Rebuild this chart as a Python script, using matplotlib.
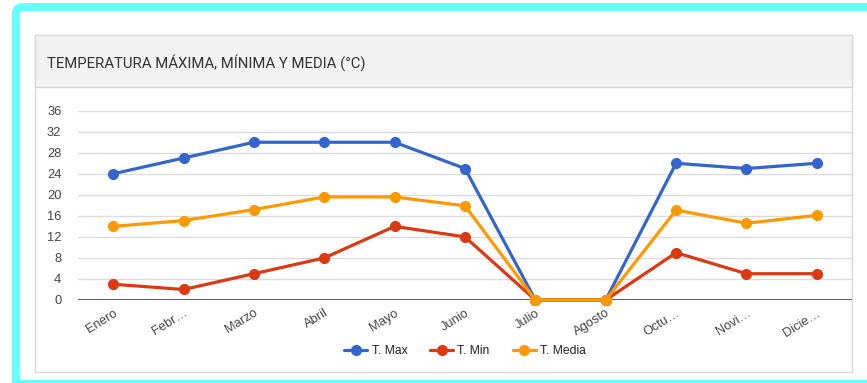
import matplotlib.pyplot as plt
from matplotlib.patches import Rectangle, FancyBboxPatch
import numpy as np

meses = ["Enero", "Febr…", "Marzo", "Abril", "Mayo", "Junio", "Julio",
         "Agosto", "Octu…", "Novi…", "Dicie…"]
t_max = [24, 27, 30, 30, 30, 25, 0, 0, 26, 25, 26]
t_min = [3, 2, 5, 8, 14, 12, 0, 0, 9, 5, 5]
t_media = [14, 15.1, 17.2, 19.6, 19.6, 17.9, 0, 0, 17.1, 14.6, 16.1]

series = [("T. Max", t_max, "#3366CC"),
          ("T. Min", t_min, "#DC3912"),
          ("T. Media", t_media, "#FF9900")]

W, H = 867, 383


def px_box(x0, y0, x1, y1):
    # pixel box (top-left origin) -> figure fraction rect
    return [x0 / W, (H - y1) / H, (x1 - x0) / W, (y1 - y0) / H]


def main():
    fig = plt.figure(figsize=(W / 100, H / 100), dpi=100)
    fig.patch.set_facecolor("white")
    draw_frame(fig)
    ax = fig.add_axes(px_box(78, 110.7, 852, 300))
    ax.set_zorder(2)
    ax.patch.set_alpha(0)
    draw_lines(ax)
    format_axes(ax)
    add_legend(fig, ax)
    fig.savefig("out.png", dpi=100)


def draw_frame(fig):
    bg = fig.add_axes([0, 0, 1, 1])
    bg.set_xlim(0, W)
    bg.set_ylim(H, 0)
    bg.axis("off")
    bg.set_zorder(0)
    # cyan outer border (rounded top-left, bottom strip separate)
    bg.add_patch(FancyBboxPatch((16, 7), 900, 400,
                                boxstyle="round,pad=0,rounding_size=7",
                                fc="none", ec="#66FFFF", lw=5.8, clip_on=False))
    bg.add_patch(Rectangle((12, 380), 900, 6, fc="#66FFFF", ec="none"))
    # card with header
    bg.add_patch(Rectangle((35, 35), 817, 337, fc="white", ec="#d9d9d9", lw=1))
    bg.add_patch(Rectangle((35, 35), 817, 52, fc="#f2f2f2", ec="#d9d9d9", lw=1))
    bg.text(47, 63, "TEMPERATURA MÁXIMA, MÍNIMA Y MEDIA (°C)",
            family="Roboto", fontsize=10.7, color="#333333", va="center", ha="left")


def draw_lines(ax):
    x = np.arange(len(meses))
    for name, vals, color in series:
        ax.plot(x, vals, color=color, lw=2.3, marker="o", ms=7,
                label=name, clip_on=False, solid_capstyle="round")


def format_axes(ax):
    ax.set_xlim(-0.5, len(meses) - 0.5)
    ax.set_ylim(0, 36)
    ax.set_yticks(range(0, 37, 4))
    ax.set_xticks(range(len(meses)))
    ax.set_xticklabels(meses, rotation=32, ha="right", va="top",
                       rotation_mode="anchor")
    for lbl in ax.get_xticklabels() + ax.get_yticklabels():
        lbl.set_family("Liberation Sans")
        lbl.set_fontsize(9.3)
        lbl.set_color("#444444")
    ax.tick_params(axis="both", length=0)
    ax.tick_params(axis="y", pad=12)
    ax.tick_params(axis="x", pad=5)
    for s in ax.spines.values():
        s.set_visible(False)
    ax.grid(axis="y", color="#dcdcdc", lw=1)
    ax.set_axisbelow(True)
    ax.axhline(0, color="#333333", lw=1.1, zorder=1)


def add_legend(fig, ax):
    handles, labels = ax.get_legend_handles_labels()
    leg = fig.legend(handles, labels, loc="center", ncol=3,
                     bbox_to_anchor=(465 / W, 1 - 351.5 / H), frameon=False,
                     prop={"family": "Liberation Sans", "size": 8.7},
                     handlelength=1.9, handletextpad=0.35, columnspacing=1.9)
    for t in leg.get_texts():
        t.set_color("#222222")


if __name__ == '__main__':
    main()
